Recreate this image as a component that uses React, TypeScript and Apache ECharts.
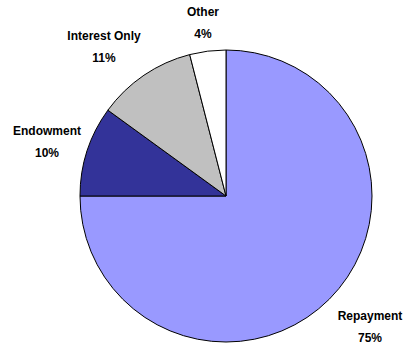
import React, { useEffect, useRef } from "react";
import * as echarts from "echarts";

const categories = ["Repayment", "Endowment", "Interest Only", "Other"];
const values = [75, 10, 11, 4];
const colors = ["#9999FF", "#333399", "#C0C0C0", "#FFFFFF"];
const labelPos: [number, number][] = [
  [370, 327],
  [47, 142],
  [104, 47],
  [203, 23],
];

export default function App() {
  const ref = useRef<HTMLDivElement>(null);
  useEffect(() => {
    if (!ref.current) return;
    const chart = echarts.init(ref.current, undefined, { renderer: "svg" });
    chart.setOption({
      animation: false,
      backgroundColor: "#ffffff",
      series: [
        {
          type: "pie",
          center: [226, 196],
          radius: 146,
          startAngle: 90,
          clockwise: true,
          avoidLabelOverlap: false,
          itemStyle: { borderColor: "#000", borderWidth: 1 },
          label: {
            show: true,
            formatter: (p: any) => `${p.name}\n${p.value}%`,
            fontFamily: "Liberation Sans, Arial, sans-serif",
            fontWeight: "bold",
            fontSize: 12,
            lineHeight: 22,
            color: "#000",
          },
          labelLine: { show: false },
          labelLayout: (params: any) => ({
            x: labelPos[params.dataIndex][0],
            y: labelPos[params.dataIndex][1],
            align: "center",
            verticalAlign: "middle",
          }),
          emphasis: { disabled: true },
          data: categories.map((c, i) => ({
            name: c,
            value: values[i],
            itemStyle: { color: colors[i] },
          })),
        },
      ],
    });
    return () => chart.dispose();
  }, []);
  return (
    <div
      ref={ref}
      style={{ position: "absolute", left: 0, top: 0, width: 403, height: 345 }}
    />
  );
}
